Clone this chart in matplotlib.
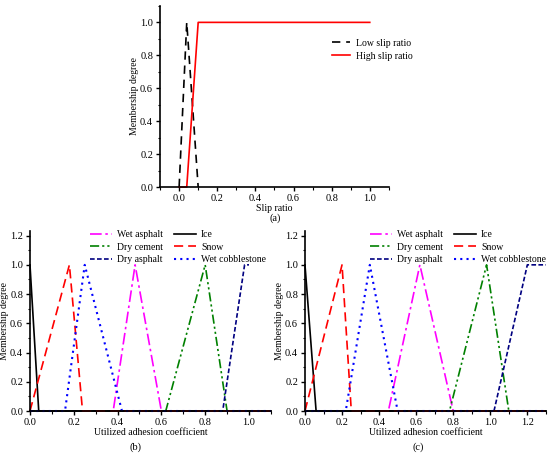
import matplotlib
matplotlib.use('Agg')
import matplotlib.pyplot as plt
from matplotlib.ticker import MultipleLocator

plt.rcParams['font.family'] = ['Liberation Serif', 'DejaVu Serif']
plt.rcParams['font.size'] = 7

# (a) slip ratio membership functions
low_slip_x = [0.0, 0.04, 0.1]
low_slip_y = [0.0, 1.0, 0.0]
high_slip_x = [0.0, 0.04, 0.1, 1.0]
high_slip_y = [0.0, 0.0, 1.0, 1.0]

# (b) utilized adhesion coefficient membership functions
b_series = {
    'Wet asphalt': ([0.0, 0.38, 0.48, 0.6, 1.1], [0, 0, 1, 0, 0]),
    'Dry cement': ([0.0, 0.62, 0.8, 0.9, 1.1], [0, 0, 1, 0, 0]),
    'Dry asphalt': ([0.0, 0.88, 0.98, 1.0], [0, 0, 1, 1]),
    'Ice': ([0.0, 0.04, 1.1], [1, 0, 0]),
    'Snow': ([0.0, 0.18, 0.24, 1.1], [0, 1, 0, 0]),
    'Wet cobblestone': ([0.0, 0.16, 0.25, 0.42, 1.1], [0, 0, 1, 0, 0]),
}

# (c) utilized adhesion coefficient membership functions
c_series = {
    'Wet asphalt': ([0.0, 0.45, 0.62, 0.8, 1.3], [0, 0, 1, 0, 0]),
    'Dry cement': ([0.0, 0.78, 0.98, 1.1, 1.3], [0, 0, 1, 0, 0]),
    'Dry asphalt': ([0.0, 1.02, 1.2, 1.3], [0, 0, 1, 1]),
    'Ice': ([0.0, 0.06, 1.3], [1, 0, 0]),
    'Snow': ([0.0, 0.2, 0.25, 1.3], [0, 1, 0, 0]),
    'Wet cobblestone': ([0.0, 0.22, 0.35, 0.5, 1.3], [0, 0, 1, 0, 0]),
}

styles = {
    'Wet asphalt': dict(color='#ff00ff', linestyle=(0, (7, 2.2, 1.5, 2.2)), linewidth=1.2),
    'Dry cement': dict(color='#008000', linestyle=(0, (5.5, 1.8, 1.3, 1.8, 1.3, 1.8)), linewidth=1.2),
    'Dry asphalt': dict(color='#000080', linestyle=(0, (2.8, 1.4)), linewidth=1.2),
    'Ice': dict(color='black', linestyle='-', linewidth=1.2),
    'Snow': dict(color='#ff0000', linestyle=(0, (5.5, 3)), linewidth=1.2),
    'Wet cobblestone': dict(color='#0000ff', linestyle=(0, (1, 2)), linewidth=1.5),
}


def style_axes(ax, xmax, ymax, xmin=0.0):
    for side in ('top', 'right'):
        ax.spines[side].set_visible(False)
    for side in ('left', 'bottom'):
        ax.spines[side].set_linewidth(1.2)
    ax.set_xlim(xmin, xmax)
    ax.set_ylim(0, ymax)
    ax.xaxis.set_major_locator(MultipleLocator(0.2))
    ax.xaxis.set_minor_locator(MultipleLocator(0.1))
    ax.yaxis.set_major_locator(MultipleLocator(0.2))
    ax.yaxis.set_minor_locator(MultipleLocator(0.1))
    ax.xaxis.set_major_formatter('{x:.1f}')
    ax.yaxis.set_major_formatter('{x:.1f}')
    ax.tick_params(which='major', direction='out', length=3, width=1, pad=2, labelsize=7.5)
    ax.tick_params(which='minor', direction='out', length=1.8, width=0.8)
    ax.set_ylabel('Membership degree', labelpad=1)


def draw_adhesion(ax, series, xmax, legend_x):
    for name, (xs, ys) in series.items():
        ax.plot(xs, ys, label=name, clip_on=False, **styles[name])
    style_axes(ax, xmax, 1.23)
    ax.set_xlabel('Utilized adhesion coefficient', labelpad=1)
    ax.legend(ncol=2, loc='upper left', bbox_to_anchor=(legend_x, 1.006), frameon=False,
              borderpad=0, borderaxespad=0, handlelength=2.3, handletextpad=0.5,
              columnspacing=1.1, labelspacing=0.35, fontsize=7)


fig = plt.figure(figsize=(5.5, 4.54), dpi=100)

ax_a = fig.add_axes([0.291, 0.588, 0.416, 0.399])
ax_a.plot(low_slip_x, low_slip_y, color='black', linestyle=(0, (5, 3.5)), linewidth=1.2,
          label='Low slip ratio', clip_on=False)
ax_a.plot(high_slip_x, high_slip_y, color='#ff0000', linewidth=1.2, label='High slip ratio',
          clip_on=False)
style_axes(ax_a, 1.1, 1.1, xmin=-0.1)
ax_a.set_xlabel('Slip ratio', labelpad=1)
ax_a.legend(loc='upper left', bbox_to_anchor=(0.751, 0.818), frameon=False, borderpad=0,
            borderaxespad=0, handlelength=1.9, handletextpad=0.6, labelspacing=0.4,
            fontsize=7)

ax_b = fig.add_axes([0.0545, 0.0947, 0.438, 0.396])
draw_adhesion(ax_b, b_series, 1.1, 0.249)

ax_c = fig.add_axes([0.5545, 0.0947, 0.438, 0.396])
draw_adhesion(ax_c, c_series, 1.3, 0.27)

fig.text(0.5, 1 - 218 / 454, '(a)', ha='center', va='center', fontsize=7.5)
fig.text(136 / 550, 1 - 447 / 454, '(b)', ha='center', va='center', fontsize=7.5)
fig.text(418 / 550, 1 - 447 / 454, '(c)', ha='center', va='center', fontsize=7.5)

fig.savefig('out.png', dpi=100)
